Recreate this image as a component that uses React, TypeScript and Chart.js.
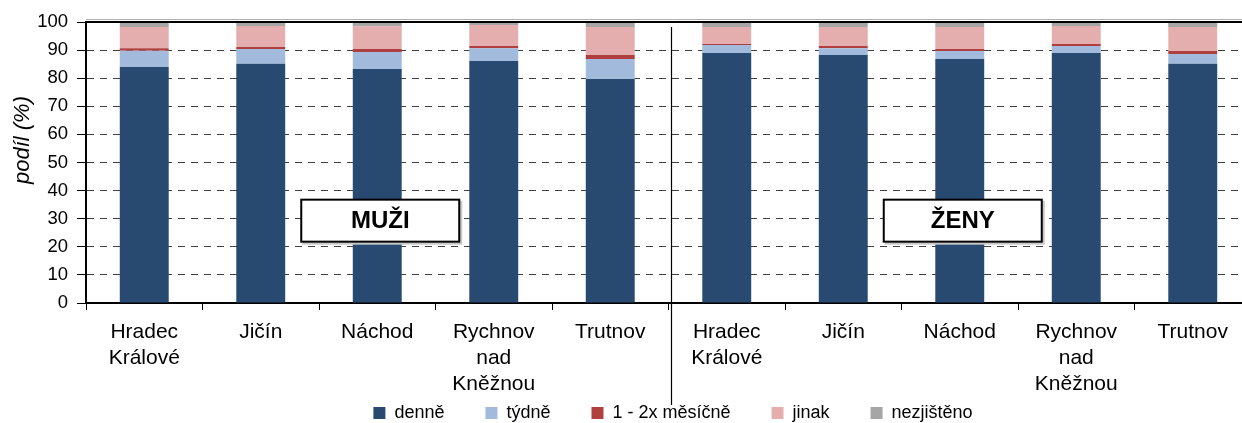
import React, { useEffect, useRef } from "react";
import { Chart, registerables } from "chart.js";

Chart.register(...registerables);

const categories: string[][] = [
  ["Hradec", "Králové"],
  ["Jičín"],
  ["Náchod"],
  ["Rychnov", "nad", "Kněžnou"],
  ["Trutnov"],
  ["Hradec", "Králové"],
  ["Jičín"],
  ["Náchod"],
  ["Rychnov", "nad", "Kněžnou"],
  ["Trutnov"],
];

const seriesNames = ["denně", "týdně", "1 - 2x měsíčně", "jinak", "nezjištěno"];
const denne = [84.0, 85.1, 83.3, 86.1, 79.7, 89.0, 88.3, 86.8, 89.0, 85.1];
const tydne = [5.8, 5.3, 6.0, 4.6, 7.1, 2.8, 2.4, 2.9, 2.5, 3.5];
const mesicne = [0.9, 0.7, 1.1, 0.8, 1.5, 0.4, 0.8, 0.7, 0.7, 1.1];
const jinak = [7.5, 7.5, 8.1, 7.4, 9.9, 6.0, 6.7, 7.8, 6.4, 8.5];
const nezjisteno = [1.8, 1.4, 1.5, 1.1, 1.8, 1.8, 1.8, 1.8, 1.4, 1.8];
const seriesColors = ["#294A70", "#A2BBDC", "#B0403F", "#E5AEAE", "#A6A6A6"];

const yTicks = [0, 10, 20, 30, 40, 50, 60, 70, 80, 90, 100];
const yTitle = "podíl (%)";
const groupLabels = ["MUŽI", "ŽENY"];
const groupCenterIndex = [2, 7];

const FONT = "'Liberation Sans', Arial, sans-serif";
const W = 1346;
const H = 462;

const overlayPlugin = {
  id: "overlay",
  beforeDraw(chart: any) {
    // pull legend up so it sits just under the plot, overlapping the x-axis label box
    const lg = chart.legend;
    if (lg) {
      const target = chart.chartArea.bottom + 60;
      const d = target - lg.top;
      lg.top += d;
      lg.bottom += d;
    }
  },
  afterDraw(chart: any) {
    const { ctx, chartArea, scales } = chart;
    const xs = scales.x;
    const ys = scales.y;
    ctx.save();
    // y title
    ctx.save();
    ctx.translate(23, ys.getPixelForValue(58));
    ctx.rotate(-Math.PI / 2);
    ctx.fillStyle = "#000";
    ctx.font = `italic 22px ${FONT}`;
    ctx.textAlign = "center";
    ctx.textBaseline = "middle";
    ctx.fillText(yTitle, 0, 0);
    ctx.restore();
    // top border
    ctx.strokeStyle = "#B0B0B0";
    ctx.lineWidth = 1;
    ctx.beginPath();
    ctx.moveTo(chartArea.left, chartArea.top - 2.5);
    ctx.lineTo(chartArea.right + 10, chartArea.top - 2.5);
    ctx.stroke();
    ctx.strokeStyle = "#000";
    ctx.lineWidth = 2;
    ctx.beginPath();
    ctx.moveTo(chartArea.left - 1, chartArea.top);
    ctx.lineTo(chartArea.right + 10, chartArea.top);
    ctx.stroke();
    // divider
    const xd = (xs.getPixelForValue(4) + xs.getPixelForValue(5)) / 2 + 3;
    ctx.lineWidth = 1.2;
    ctx.beginPath();
    ctx.moveTo(xd, chartArea.top + 5);
    ctx.lineTo(xd, chartArea.bottom + 102);
    ctx.stroke();
    // group labels
    groupLabels.forEach((lab, i) => {
      const cx = xs.getPixelForValue(groupCenterIndex[i]) + 3;
      const cy = ys.getPixelForValue(29.3);
      const bw = 158;
      const bh = 42;
      ctx.fillStyle = "#C8C8C8";
      ctx.fillRect(cx - bw / 2 + 1, cy - bh / 2 + 1, bw + 2, bh + 2);
      ctx.fillStyle = "#FFFFFF";
      ctx.fillRect(cx - bw / 2, cy - bh / 2, bw, bh);
      ctx.strokeStyle = "#000";
      ctx.lineWidth = 2;
      ctx.strokeRect(cx - bw / 2, cy - bh / 2, bw, bh);
      ctx.fillStyle = "#000";
      ctx.font = `bold 24px ${FONT}`;
      ctx.textAlign = "center";
      ctx.textBaseline = "middle";
      ctx.fillText(lab, cx, cy + 1);
    });
    ctx.restore();
  },
};

export default function App() {
  const ref = useRef<HTMLCanvasElement>(null);
  useEffect(() => {
    if (!ref.current) return;
    const values = [denne, tydne, mesicne, jinak, nezjisteno];
    const chart = new Chart(ref.current, {
      type: "bar",
      data: {
        labels: categories,
        datasets: seriesNames.map((name, i) => ({
          label: name,
          data: values[i],
          backgroundColor: seriesColors[i],
          borderWidth: 0,
          barPercentage: 0.42,
          categoryPercentage: 1,
        })),
      },
      options: {
        animation: false,
        responsive: false,
        devicePixelRatio: 1,
        layout: { padding: { top: 22, left: 0, right: 0, bottom: 0 } },
        plugins: {
          title: { display: false },
          tooltip: { enabled: false },
          legend: {
            position: "bottom",
            labels: {
              color: "#000",
              font: { family: FONT, size: 18 },
              boxWidth: 12,
              boxHeight: 12,
              padding: 41,
            },
          },
        },
        scales: {
          x: {
            stacked: true,
            grid: {
              offset: true,
              drawOnChartArea: false,
              drawTicks: true,
              tickLength: 7,
              tickColor: "#000",
              tickWidth: 1,
            },
            border: { color: "#000", width: 2 },
            ticks: {
              color: "#000",
              font: { family: FONT, size: 21, lineHeight: 1.24 },
              padding: 9,
              maxRotation: 0,
              autoSkip: false,
            },
            afterFit: (s: any) => {
              s.height = 90;
            },
          },
          y: {
            stacked: true,
            min: 0,
            max: 100,
            afterBuildTicks: (s: any) => {
              s.ticks = yTicks.map((v) => ({ value: v }));
            },
            grid: {
              color: "#404040",
              lineWidth: 1,
              tickLength: 9,
              tickColor: "#000",
              tickWidth: 1,
              tickBorderDash: [],
            },
            border: { color: "#000", width: 2, dash: [7, 6] },
            ticks: {
              color: "#000",
              font: { family: FONT, size: 18.5 },
              padding: 9,
            },
            afterFit: (s: any) => {
              s.width = 86;
            },
          },
          yr: {
            position: "right",
            display: true,
            grid: { display: false },
            border: { display: false },
            ticks: { display: false },
            afterFit: (s: any) => {
              s.width = 95;
            },
          },
        },
      },
      plugins: [overlayPlugin],
    });
    return () => chart.destroy();
  }, []);
  return (
    <div
      style={{
        position: "absolute",
        left: 0,
        top: 0,
        width: 1242,
        height: 423,
        overflow: "hidden",
        background: "#fff",
      }}
    >
      <canvas ref={ref} width={W} height={H} style={{ width: W, height: H, display: "block" }} />
    </div>
  );
}
